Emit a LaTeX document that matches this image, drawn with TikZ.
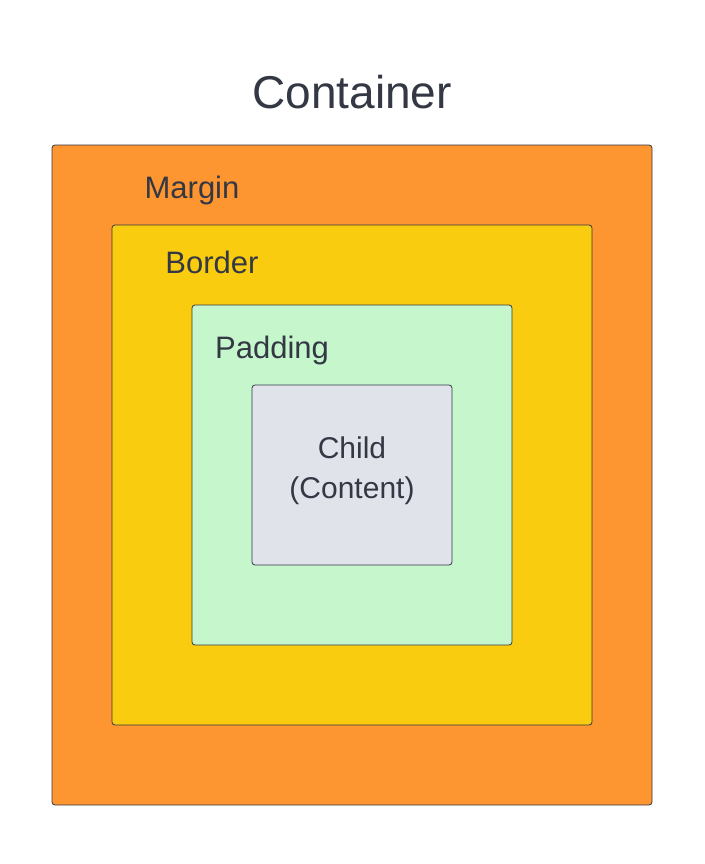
\documentclass[tikz,border=0pt]{standalone}
\usepackage{fontspec}
\setmainfont{Liberation Sans}
\definecolor{txt}{HTML}{333844}
\definecolor{marg}{HTML}{FD9530}
\definecolor{bord}{HTML}{FACC0F}
\definecolor{padc}{HTML}{C5F6CC}
\definecolor{chil}{HTML}{E0E3EA}
\begin{document}
\begin{tikzpicture}[x=1pt,y=-1pt,
  box/.style={draw=txt,line width=0.8pt,rounded corners=3pt},
  lbl/.style={text=txt,inner sep=0pt,font=\fontsize{31}{36}\selectfont}]
\useasboundingbox (0,0) rectangle (704,864);
\fill[white] (0,0) rectangle (704,864);
\draw[box,fill=marg] (52,145) rectangle (652,805);
\draw[box,fill=bord] (112,225) rectangle (592,725);
\draw[box,fill=padc] (192,305) rectangle (512,645);
\draw[box,fill=chil] (252,385) rectangle (452,565);
\node[lbl,font=\fontsize{46}{52}\selectfont] (cont) at (352,92) {Container};
\node[lbl] (m) at (192,190) {Margin};
\node[lbl] (b) at (212,262) {Border};
\node[lbl] (p) at (272,350) {Padding};
\node[lbl,align=center,font=\fontsize{30}{40}\selectfont] (c) at (352,471) {Child\\(Content)};
\end{tikzpicture}
\end{document}
